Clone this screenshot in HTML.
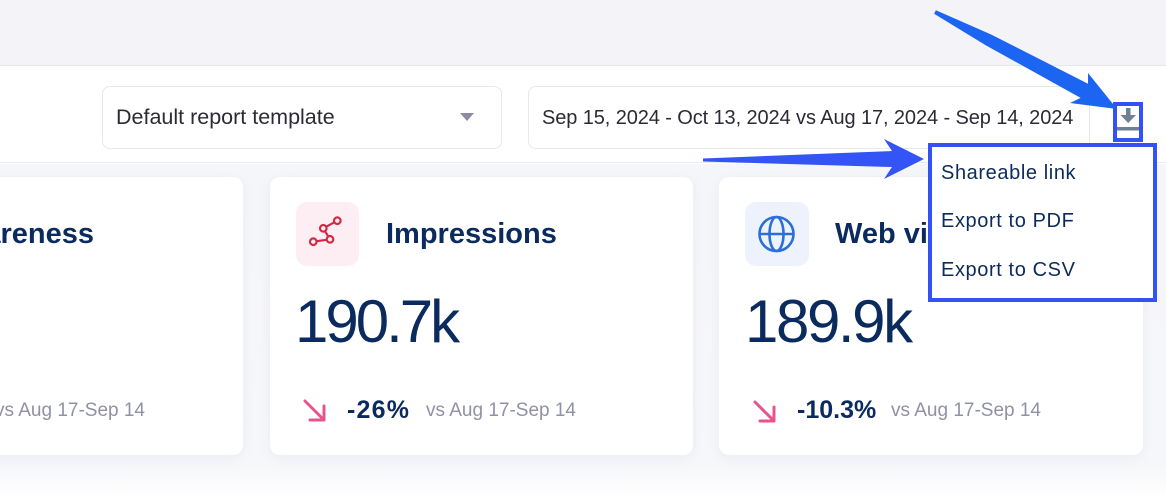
<!DOCTYPE html>
<html><head><meta charset="utf-8"><style>
*{margin:0;padding:0;box-sizing:border-box}
html,body{width:1166px;height:498px;overflow:hidden;background:#fff;font-family:"Liberation Sans",sans-serif}
#w{position:relative;width:1166px;height:498px;overflow:hidden}
.a{position:absolute;white-space:nowrap;line-height:1}
.top{position:absolute;left:0;top:0;width:1166px;height:66px;background:#f3f3f8;border-bottom:1px solid #e6e6ed}
.hdr{position:absolute;left:0;top:67px;width:1166px;height:96px;background:#fff;border-bottom:1px solid #e8e9ef}
.bg{position:absolute;left:0;top:164px;width:1166px;height:334px;background:linear-gradient(#f5f6f9 0,#f6f7fa 300px,#fcfcfd 325px,#fff 334px)}
.box{position:absolute;top:86px;height:63px;border:1px solid #e7e7ee;border-radius:8px;background:#fff}
.card{position:absolute;top:177px;height:278px;width:424px;background:#fff;border-radius:10px;box-shadow:0 3px 14px rgba(30,40,90,0.05)}
.navy{color:#0b2b5e}
.t{font-size:29px;font-weight:700;top:219.5px}
.num{font-size:60px;top:291.5px}
.pct{font-size:25px;font-weight:700;top:397.8px}
.vs{font-size:19px;color:#8f91a7;top:401.4px}
.menu{position:absolute;left:928px;top:143px;width:229px;height:159px;border:4px solid #3352f4;background:#fff}
.mi{font-size:20px;letter-spacing:0.6px;color:#0d2a5c}
</style></head><body><div id="w">
<div class="top"></div>
<div class="hdr"></div>
<div class="bg"></div>

<div class="box" style="left:102px;width:400px"></div>
<div class="a" style="left:116px;top:106.8px;font-size:21.5px;color:#2b2b35">Default report template</div>
<svg class="a" style="left:0;top:0" width="1166" height="498"><polygon points="460,113 474,113 467,121" fill="#8b8ba3"/></svg>

<div class="box" style="left:528px;width:562px"></div>
<div class="a" style="left:542px;top:107.6px;font-size:20px;letter-spacing:-0.1px;color:#2b2b35">Sep 15, 2024 - Oct 13, 2024 vs Aug 17, 2024 - Sep 14, 2024</div>

<div class="card" style="left:-181px"></div>
<div class="card" style="left:270px;width:423px"></div>
<div class="card" style="left:719px;width:424px"></div>

<div class="a navy t" style="right:1072px">Brand Awareness</div>
<div class="a vs" style="right:1021px">vs Aug 17-Sep 14</div>

<div class="a" style="left:296px;top:202px;width:63px;height:64px;border-radius:11px;background:#fdeef4"></div>
<div class="a navy t" style="left:386px">Impressions</div>
<div class="a navy num" style="left:295px;letter-spacing:-3px">190.7k</div>
<div class="a navy pct" style="left:347px;letter-spacing:1.2px">-26%</div>
<div class="a vs" style="left:426px">vs Aug 17-Sep 14</div>

<div class="a" style="left:745px;top:202px;width:64px;height:64px;border-radius:11px;background:#edf2fc"></div>
<div class="a navy t" style="left:835px">Web visits</div>
<div class="a navy num" style="left:745px;letter-spacing:-2.4px">189.9k</div>
<div class="a navy pct" style="left:797px">-10.3%</div>
<div class="a vs" style="left:891px">vs Aug 17-Sep 14</div>

<svg class="a" style="left:0;top:0" width="1166" height="498">
  <g stroke="#d02a45" stroke-width="2.2" fill="none">
    <line x1="313.3" y1="241.7" x2="330" y2="239.3"/>
    <line x1="330" y1="239.3" x2="323.3" y2="228.3"/>
    <line x1="323.3" y1="228.3" x2="337.3" y2="220.7"/>
    <circle cx="313.3" cy="241.7" r="3.3" fill="#fdeef4"/>
    <circle cx="323.3" cy="228.3" r="3.3" fill="#fdeef4"/>
    <circle cx="330" cy="239.3" r="3.3" fill="#fdeef4"/>
    <circle cx="337.3" cy="220.7" r="3.3" fill="#fdeef4"/>
  </g>
  <g stroke="#2b6fd8" stroke-width="2.6" fill="none">
    <circle cx="776.5" cy="234" r="17"/>
    <ellipse cx="776.5" cy="234" rx="7" ry="17"/>
    <line x1="759.5" y1="234" x2="793.5" y2="234"/>
  </g>
  <g stroke="#e8538c" stroke-width="3" fill="none" stroke-linecap="round" stroke-linejoin="round">
    <line x1="305" y1="401" x2="323" y2="419"/>
    <polyline points="310,420 324,420 324,406"/>
    <line x1="755" y1="402" x2="773" y2="420"/>
    <polyline points="760,421 774,421 774,407"/>
  </g>
  <rect x="1115" y="104" width="26" height="36" fill="#fff" stroke="#3352f4" stroke-width="4"/>
  <rect x="1126" y="108" width="4.5" height="8" fill="#6e7f96"/>
  <polygon points="1120.5,115 1136,115 1128.2,123" fill="#6e7f96"/>
  <rect x="1117" y="127" width="22" height="3.5" fill="#6e7f96"/>
</svg>

<div class="menu"></div>
<div class="a mi" style="left:941px;top:163.1px">Shareable link</div>
<div class="a mi" style="left:941px;top:211.1px">Export to PDF</div>
<div class="a mi" style="left:941px;top:260.1px">Export to CSV</div>

<svg class="a" style="left:0;top:0" width="1166" height="498">
  <polygon points="935.9,10.2 991.1,34.5 1088,83.7 1088,73 1117,109 1070,103 1080.6,97.9 985.5,45.1 934.1,13.8" fill="#1c64f2"/>
  <polygon points="703,158.5 892,151 884,139 924,159 884,179 892,167 703,161.5" fill="#3454f6"/>
</svg>
</div></body></html>
